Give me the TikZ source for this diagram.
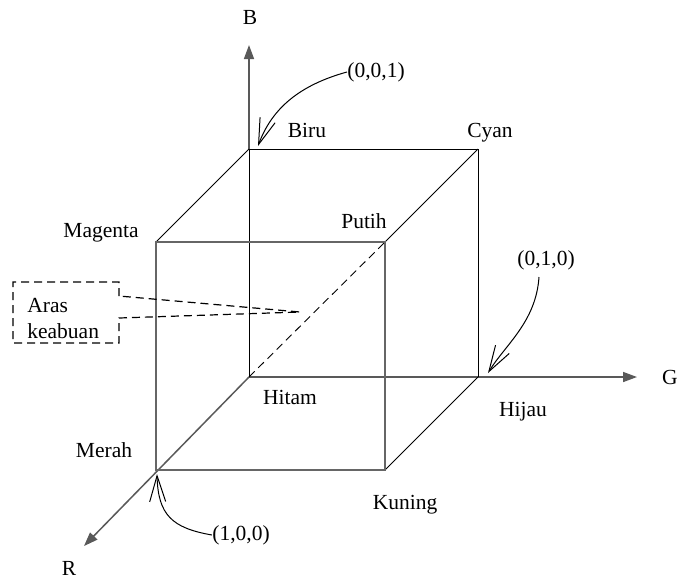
\documentclass[tikz,border=0pt]{standalone}
\usepackage{fontspec}
\setmainfont{Liberation Serif}
\usetikzlibrary{arrows.meta,positioning}
\tikzset{
    cubeaxis/.style={-{Triangle[length=7pt,width=5pt]}, draw=black!65, line width=0.75pt},
    cubefront/.style={draw=black!60, line width=0.6pt},
    cubeedge/.style={draw=black, line width=0.4pt},
    cubegrey/.style={draw=black, dash pattern=on 4pt off 2.5pt, line width=0.45pt},
    cubelabel/.style={font=\fontsize{10.75}{13}\selectfont, inner sep=0pt},
    cubenote/.style={-{Straight Barb[length=13pt,width=8pt]}, line width=0.5pt},
    cubecallout/.style={draw=black, dash pattern=on 4pt off 2.5pt, line width=0.6pt}
}

\begin{document}
\begin{tikzpicture}[x=0.5pt, y=-0.5pt]
    \useasboundingbox (0,0) rectangle (679,580);

    % cube corners
    \coordinate (hitam) at (249,377);
    \coordinate (biru) at (249,149);
    \coordinate (cyan) at (478,149);
    \coordinate (hijau) at (478,377);
    \coordinate (magenta) at (156,242);
    \coordinate (putih) at (385,242);
    \coordinate (kuning) at (385,470);
    \coordinate (merah) at (156,470);
    \coordinate (btip) at (249,45);
    \coordinate (gtip) at (637,377);
    \coordinate (rtip) at (84,546);

    % axes
    \draw[cubeaxis] (biru) -- (btip);
    \draw[cubeaxis] (hitam) -- (gtip);
    \draw[cubeaxis] (hitam) -- (rtip);

    % back and side edges
    \draw[cubeedge] (hitam) -- (biru) -- (cyan) -- (hijau);
    \draw[cubeedge] (biru) -- (magenta);
    \draw[cubeedge] (cyan) -- (putih);
    \draw[cubeedge] (hijau) -- (kuning);
    \draw[cubefront] (magenta) -- (putih) -- (kuning) -- (merah) -- cycle;

    % grey line
    \draw[cubegrey] (hitam) -- (putih);

    % labels
    \node[cubelabel] (lb) at (250,17) {B};
    \node[cubelabel] (lg) at (670,377) {G};
    \node[cubelabel] (lr) at (69,568) {R};
    \node[cubelabel] (lbiru) at (307,130) {Biru};
    \node[cubelabel] (lcyan) at (490,133) {Cyan};
    \node[cubelabel] (lmagenta) at (101,233) {Magenta};
    \node[cubelabel] (lputih) at (364,221) {Putih};
    \node[cubelabel] (lhitam) at (290,397) {Hitam};
    \node[cubelabel] (lhijau) at (523,412) {Hijau};
    \node[cubelabel] (lmerah) at (104,450) {Merah};
    \node[cubelabel] (lkuning) at (405,505) {Kuning};
    \node[cubelabel] (l001) at (376,72) {(0,0,1)};
    \node[cubelabel] (l010) at (546,260) {(0,1,0)};
    \node[cubelabel] (l100) at (241,535) {(1,0,0)};

    % pointers
    \draw[cubenote] (l001.west) .. controls (300,85) and (272,108) .. (258,146);
    \draw[cubenote] (539,277) .. controls (536,322) and (505,345) .. (488,373);
    \draw[cubenote] (l100.west) .. controls (172,528) and (158,515) .. (157,474);

    % callout
    \draw[cubecallout] (119,296) -- (119,282) -- (13,282) -- (13,343) -- (119,343)
        -- (119,318) -- (300,312) -- cycle;
    \node[cubelabel, align=left, anchor=west] (aras) at (27,318) {Aras\\keabuan};
\end{tikzpicture}
\end{document}
